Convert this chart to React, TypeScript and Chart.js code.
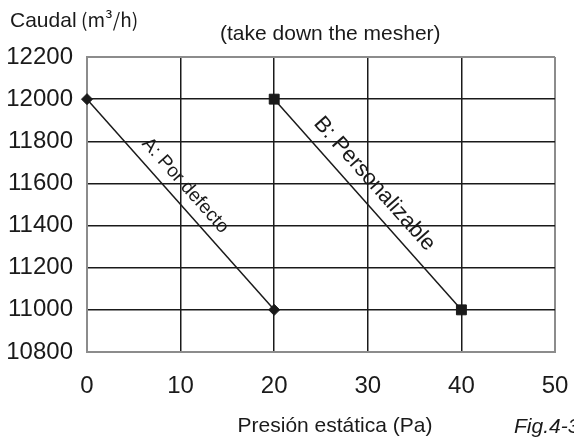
import React, { useEffect, useRef } from "react";
import { Chart, registerables } from "chart.js";

Chart.register(...registerables);

const seriesNames = ["A: Por defecto", "B: Personalizable"];
const pressureA = [0, 20];
const flowA = [12000, 11000];
const pressureB = [20, 40];
const flowB = [12000, 11000];
const xMin = 0;
const xMax = 50;
const xStep = 10;
const yMin = 10800;
const yMax = 12200;
const yStep = 200;
const yAxisLabel = "Caudal";
const yAxisUnit = "(m³/h)";
const xAxisLabel = "Presión estática (Pa)";
const noteText = "(take down the mesher)";
const figText = "Fig.4-3";

const FONT = "'Liberation Sans', Arial, Helvetica, sans-serif";
const INK = "#1a1a1a";
const FRAME = "#8c8c8c";

const textPlugin = {
  id: "extraText",
  afterDraw(chart: any) {
    const ctx = chart.ctx;
    const xs = chart.scales.x;
    const ys = chart.scales.y;
    ctx.save();
    ctx.fillStyle = INK;
    ctx.textBaseline = "alphabetic";
    ctx.textAlign = "left";
    ctx.font = `21px ${FONT}`;
    ctx.fillText(yAxisLabel, 10, 27);
    ctx.font = `19px 'Noto Sans CJK JP', sans-serif`;
    ctx.fillText(yAxisUnit, 81, 27);
    ctx.font = `21px ${FONT}`;
    ctx.textBaseline = "middle";
    ctx.fillText(noteText, 220, 34);
    ctx.textBaseline = "alphabetic";
    ctx.textAlign = "center";
    ctx.fillText(xAxisLabel, 335, 432);
    ctx.textAlign = "left";
    ctx.font = `italic 21px ${FONT}`;
    ctx.fillText(figText, 514, 433);

    // series labels along lines
    const segs = [
      { xs: pressureA, ys: flowA, name: seriesNames[0], perp: 16, along: -11, size: 19 },
      { xs: pressureB, ys: flowB, name: seriesNames[1], perp: 18.5, along: -11, size: 22 },
    ];
    ctx.textAlign = "center";
    ctx.textBaseline = "middle";
    for (const s of segs) {
      ctx.font = `${s.size}px ${FONT}`;
      const x1 = xs.getPixelForValue(s.xs[0]);
      const y1 = ys.getPixelForValue(s.ys[0]);
      const x2 = xs.getPixelForValue(s.xs[1]);
      const y2 = ys.getPixelForValue(s.ys[1]);
      const ang = Math.atan2(y2 - y1, x2 - x1);
      const dx = Math.cos(ang);
      const dy = Math.sin(ang);
      const mx = (x1 + x2) / 2 + dx * s.along + dy * s.perp;
      const my = (y1 + y2) / 2 + dy * s.along - dx * s.perp;
      ctx.save();
      ctx.translate(mx, my);
      ctx.rotate(ang);
      ctx.fillText(s.name, 0, 0);
      ctx.restore();
    }
    ctx.restore();
  },
};

export default function App() {
  const ref = useRef<HTMLCanvasElement | null>(null);
  useEffect(() => {
    if (!ref.current) return;
    const isEdge = (ctx: any, lo: number, hi: number) =>
      ctx.tick && (ctx.tick.value === lo || ctx.tick.value === hi);
    const chart = new Chart(ref.current, {
      type: "line",
      data: {
        datasets: [
          {
            label: seriesNames[0],
            data: pressureA.map((p, i) => ({ x: p, y: flowA[i] })),
            borderColor: INK,
            backgroundColor: INK,
            borderWidth: 1.5,
            pointStyle: "rectRot",
            pointRadius: 5.5,
            pointBorderWidth: 1,
            clip: false as any,
          },
          {
            label: seriesNames[1],
            data: pressureB.map((p, i) => ({ x: p, y: flowB[i] })),
            borderColor: INK,
            backgroundColor: INK,
            borderWidth: 1.5,
            pointStyle: "rect",
            pointRadius: 7,
            pointBorderWidth: 1,
            clip: false as any,
          },
        ],
      },
      options: {
        responsive: false,
        animation: false,
        layout: { padding: { left: 0, top: 57, right: 19, bottom: 0 } },
        plugins: { legend: { display: false }, tooltip: { enabled: false } },
        scales: {
          x: {
            type: "linear",
            min: xMin,
            max: xMax,
            ticks: {
              stepSize: xStep,
              font: { size: 24, family: FONT },
              color: INK,
              padding: 20,
              maxRotation: 0,
            },
            grid: {
              drawTicks: false,
              color: (c: any) => (isEdge(c, xMin, xMax) ? FRAME : INK),
              lineWidth: (c: any) => (isEdge(c, xMin, xMax) ? 2 : 1.5),
            },
            border: { display: true, color: FRAME, width: 2 },
            afterFit: (s: any) => {
              s.height = 86;
              s.paddingLeft = 0;
              s.paddingRight = 0;
            },
          },
          y: {
            type: "linear",
            min: yMin,
            max: yMax,
            ticks: {
              stepSize: yStep,
              font: { size: 24, family: FONT },
              color: INK,
              padding: 14,
              callback: (v: any) => String(v),
            },
            grid: {
              drawTicks: false,
              color: (c: any) => (isEdge(c, yMin, yMax) ? FRAME : INK),
              lineWidth: (c: any) => (isEdge(c, yMin, yMax) ? 2 : 1.5),
            },
            border: { display: true, color: FRAME, width: 2 },
            afterFit: (s: any) => {
              s.width = 87;
              s.paddingTop = 0;
              s.paddingBottom = 0;
            },
          },
        },
      },
      plugins: [textPlugin],
    } as any);
    return () => chart.destroy();
  }, []);
  return (
    <div style={{ position: "fixed", left: 0, top: 0, width: 574, height: 438, background: "#fff" }}>
      <canvas ref={ref} width={574} height={438} style={{ width: 574, height: 438 }} />
    </div>
  );
}
